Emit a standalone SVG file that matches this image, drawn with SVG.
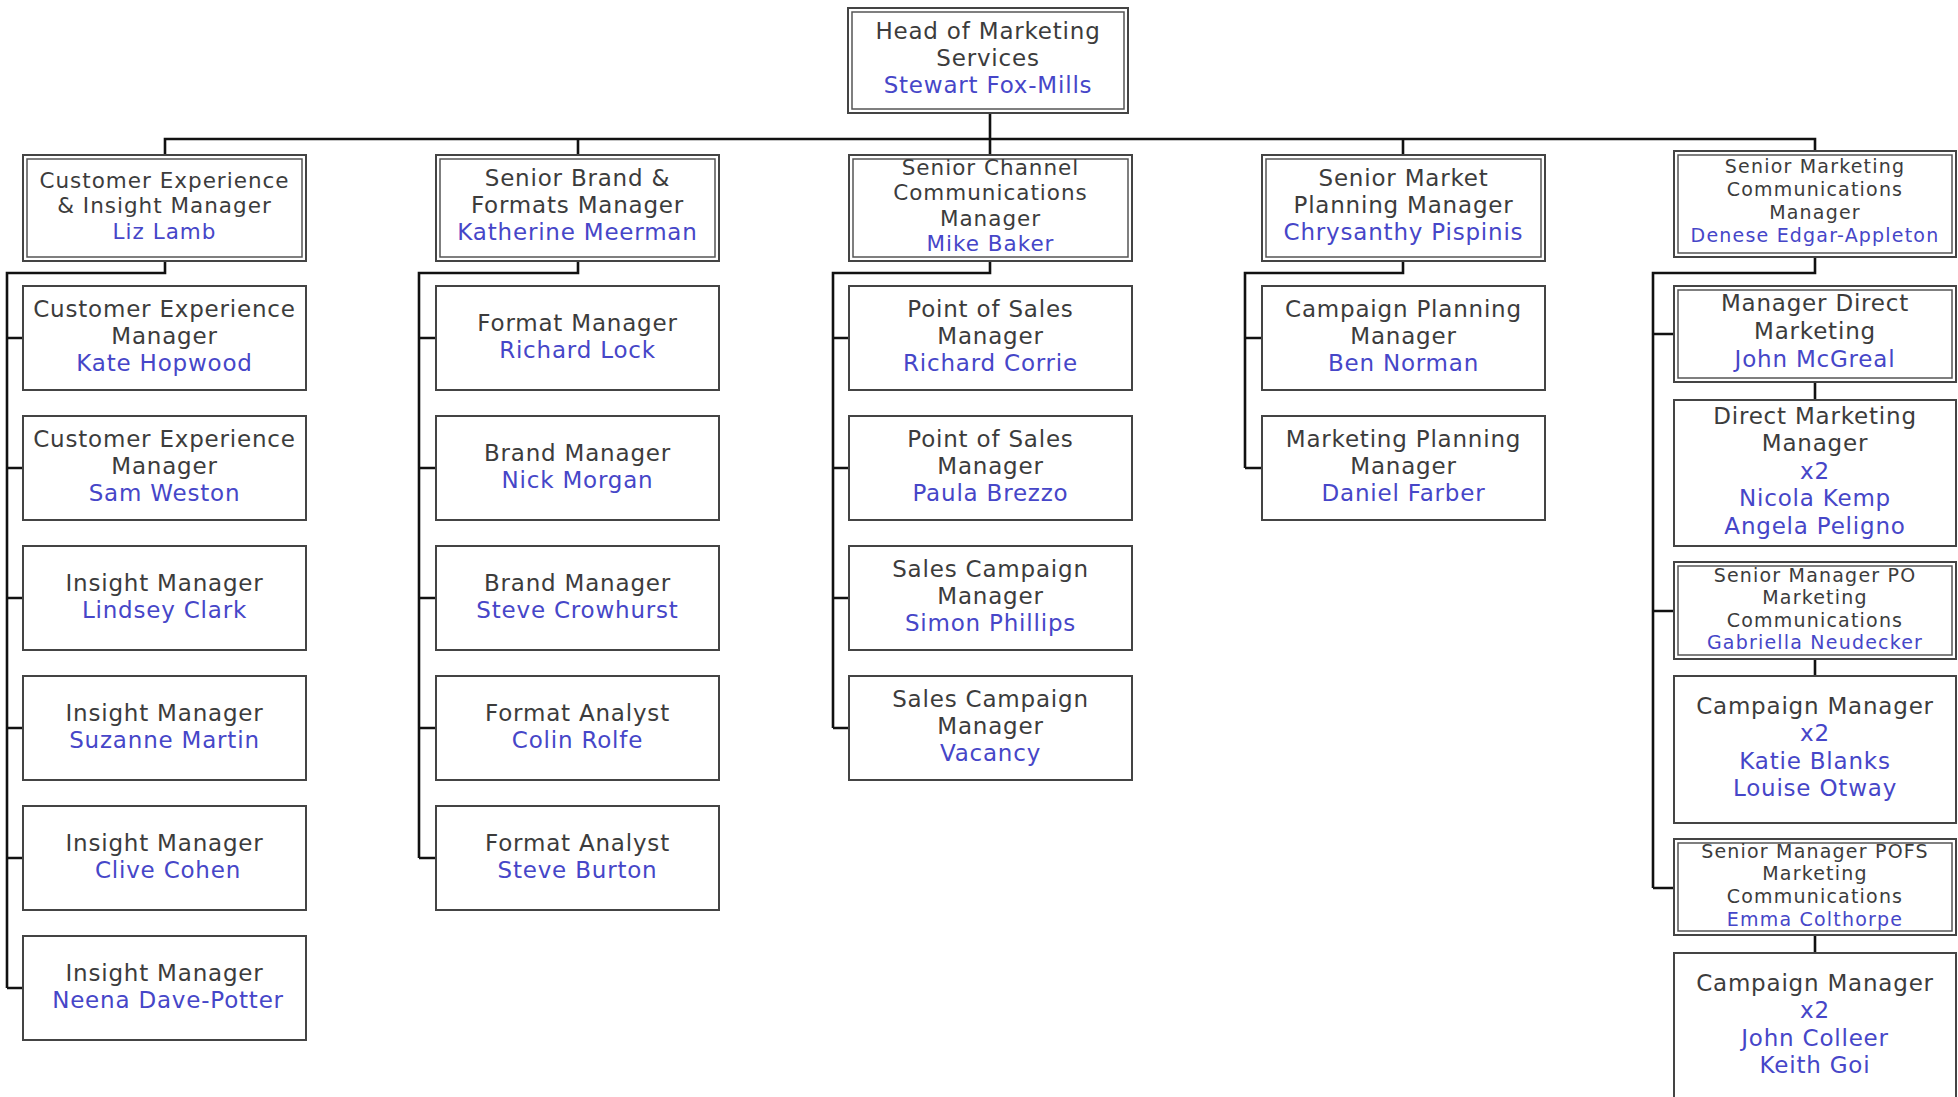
<svg xmlns="http://www.w3.org/2000/svg" width="1958" height="1097" viewBox="0 0 1958 1097">
<style>
  .bg { fill: #ffffff; }
  .box { fill: #ffffff; stroke: #444444; stroke-width: 2; }
  .inner { fill: none; stroke: #555555; stroke-width: 1.5; }
  .conn { fill: none; stroke: #111111; stroke-width: 2.6; stroke-linejoin: miter; }
  text { font-family: "DejaVu Sans", "Noto Sans", sans-serif; text-anchor: middle; letter-spacing: 0.8px; }
  .t { fill: #3c3c3c; font-size: 23px; }
  .n { fill: #4646c8; font-size: 23px; }
  .s { font-size: 21.5px; letter-spacing: 1px; }
  .xs { font-size: 19px; letter-spacing: 1.2px; }
</style>
<rect class="bg" x="0" y="0" width="1958" height="1097"/>

<g id="connectors">
  <path class="conn" d="M990 113 V139 M165 155 V139 H1815 V151 M578 139 V155 M990 139 V155 M1403 139 V155"/>
  <path class="conn" d="M165 261 V273 H7 V988 M7 338 H23 M7 468 H23 M7 598 H23 M7 728 H23 M7 858 H23 M7 988 H23"/>
  <path class="conn" d="M578 261 V273 H419 V858 M419 338 H436 M419 468 H436 M419 598 H436 M419 728 H436 M419 858 H436"/>
  <path class="conn" d="M990 261 V273 H833 V728 M833 338 H849 M833 468 H849 M833 598 H849 M833 728 H849"/>
  <path class="conn" d="M1403 261 V273 H1245 V468 M1245 338 H1262 M1245 468 H1262"/>
  <path class="conn" d="M1815 257 V273 H1653 V888 M1653 334 H1674 M1653 611 H1674 M1653 888 H1674"/>
  <path class="conn" d="M1815 382 V400 M1815 659 V676 M1815 935 V953"/>
</g>

<g id="head">
  <rect class="box" x="848" y="8" width="280" height="105"/>
  <rect class="inner" x="852" y="12" width="272" height="97"/>
  <text class="t" x="988" y="39">Head of Marketing</text>
  <text class="t" x="988" y="66">Services</text>
  <text class="n" x="988" y="93">Stewart Fox-Mills</text>
</g>

<!-- Column 1 -->
<g id="liz-lamb">
  <rect class="box" x="23" y="155" width="283" height="106"/>
  <rect class="inner" x="27" y="159" width="275" height="98"/>
  <text class="t s" x="164.5" y="188">Customer Experience</text>
  <text class="t s" x="164.5" y="213">&amp; Insight Manager</text>
  <text class="n s" x="164.5" y="239">Liz Lamb</text>
</g>
<g id="kate-hopwood">
  <rect class="box" x="23" y="286" width="283" height="104"/>
  <text class="t" x="164.5" y="317">Customer Experience</text>
  <text class="t" x="164.5" y="344">Manager</text>
  <text class="n" x="164.5" y="371">Kate Hopwood</text>
</g>
<g id="sam-weston">
  <rect class="box" x="23" y="416" width="283" height="104"/>
  <text class="t" x="164.5" y="447">Customer Experience</text>
  <text class="t" x="164.5" y="474">Manager</text>
  <text class="n" x="164.5" y="501">Sam Weston</text>
</g>
<g id="lindsey-clark">
  <rect class="box" x="23" y="546" width="283" height="104"/>
  <text class="t" x="164.5" y="591">Insight Manager</text>
  <text class="n" x="164.5" y="618">Lindsey Clark</text>
</g>
<g id="suzanne-martin">
  <rect class="box" x="23" y="676" width="283" height="104"/>
  <text class="t" x="164.5" y="721">Insight Manager</text>
  <text class="n" x="164.5" y="748">Suzanne Martin</text>
</g>
<g id="clive-cohen">
  <rect class="box" x="23" y="806" width="283" height="104"/>
  <text class="t" x="164.5" y="851">Insight Manager</text>
  <text class="n" x="168" y="878">Clive Cohen</text>
</g>
<g id="neena-dave-potter">
  <rect class="box" x="23" y="936" width="283" height="104"/>
  <text class="t" x="164.5" y="981">Insight Manager</text>
  <text class="n" x="168" y="1008">Neena Dave-Potter</text>
</g>

<!-- Column 2 -->
<g id="katherine-meerman">
  <rect class="box" x="436" y="155" width="283" height="106"/>
  <rect class="inner" x="440" y="159" width="275" height="98"/>
  <text class="t" x="577.5" y="186">Senior Brand &amp;</text>
  <text class="t" x="577.5" y="213">Formats Manager</text>
  <text class="n" x="577.5" y="240">Katherine Meerman</text>
</g>
<g id="richard-lock">
  <rect class="box" x="436" y="286" width="283" height="104"/>
  <text class="t" x="577.5" y="331">Format Manager</text>
  <text class="n" x="577.5" y="358">Richard Lock</text>
</g>
<g id="nick-morgan">
  <rect class="box" x="436" y="416" width="283" height="104"/>
  <text class="t" x="577.5" y="461">Brand Manager</text>
  <text class="n" x="577.5" y="488">Nick Morgan</text>
</g>
<g id="steve-crowhurst">
  <rect class="box" x="436" y="546" width="283" height="104"/>
  <text class="t" x="577.5" y="591">Brand Manager</text>
  <text class="n" x="577.5" y="618">Steve Crowhurst</text>
</g>
<g id="colin-rolfe">
  <rect class="box" x="436" y="676" width="283" height="104"/>
  <text class="t" x="577.5" y="721">Format Analyst</text>
  <text class="n" x="577.5" y="748">Colin Rolfe</text>
</g>
<g id="steve-burton">
  <rect class="box" x="436" y="806" width="283" height="104"/>
  <text class="t" x="577.5" y="851">Format Analyst</text>
  <text class="n" x="577.5" y="878">Steve Burton</text>
</g>

<!-- Column 3 -->
<g id="mike-baker">
  <rect class="box" x="849" y="155" width="283" height="106"/>
  <rect class="inner" x="853" y="159" width="275" height="98"/>
  <text class="t s" x="990.5" y="175">Senior Channel</text>
  <text class="t s" x="990.5" y="200">Communications</text>
  <text class="t s" x="990.5" y="226">Manager</text>
  <text class="n s" x="990.5" y="251">Mike Baker</text>
</g>
<g id="richard-corrie">
  <rect class="box" x="849" y="286" width="283" height="104"/>
  <text class="t" x="990.5" y="317">Point of Sales</text>
  <text class="t" x="990.5" y="344">Manager</text>
  <text class="n" x="990.5" y="371">Richard Corrie</text>
</g>
<g id="paula-brezzo">
  <rect class="box" x="849" y="416" width="283" height="104"/>
  <text class="t" x="990.5" y="447">Point of Sales</text>
  <text class="t" x="990.5" y="474">Manager</text>
  <text class="n" x="990.5" y="501">Paula Brezzo</text>
</g>
<g id="simon-phillips">
  <rect class="box" x="849" y="546" width="283" height="104"/>
  <text class="t" x="990.5" y="577">Sales Campaign</text>
  <text class="t" x="990.5" y="604">Manager</text>
  <text class="n" x="990.5" y="631">Simon Phillips</text>
</g>
<g id="vacancy">
  <rect class="box" x="849" y="676" width="283" height="104"/>
  <text class="t" x="990.5" y="707">Sales Campaign</text>
  <text class="t" x="990.5" y="734">Manager</text>
  <text class="n" x="990.5" y="761">Vacancy</text>
</g>

<!-- Column 4 -->
<g id="chrysanthy-pispinis">
  <rect class="box" x="1262" y="155" width="283" height="106"/>
  <rect class="inner" x="1266" y="159" width="275" height="98"/>
  <text class="t" x="1403.5" y="186">Senior Market</text>
  <text class="t" x="1403.5" y="213">Planning Manager</text>
  <text class="n" x="1403.5" y="240">Chrysanthy Pispinis</text>
</g>
<g id="ben-norman">
  <rect class="box" x="1262" y="286" width="283" height="104"/>
  <text class="t" x="1403.5" y="317">Campaign Planning</text>
  <text class="t" x="1403.5" y="344">Manager</text>
  <text class="n" x="1403.5" y="371">Ben Norman</text>
</g>
<g id="daniel-farber">
  <rect class="box" x="1262" y="416" width="283" height="104"/>
  <text class="t" x="1403.5" y="447">Marketing Planning</text>
  <text class="t" x="1403.5" y="474">Manager</text>
  <text class="n" x="1403.5" y="501">Daniel Farber</text>
</g>

<!-- Column 5 -->
<g id="denese-edgar-appleton">
  <rect class="box" x="1674" y="151" width="282" height="106"/>
  <rect class="inner" x="1678" y="155" width="274" height="98"/>
  <text class="t xs" x="1815" y="173">Senior Marketing</text>
  <text class="t xs" x="1815" y="196">Communications</text>
  <text class="t xs" x="1815" y="219">Manager</text>
  <text class="n xs" x="1815" y="242">Denese Edgar-Appleton</text>
</g>
<g id="john-mcgreal">
  <rect class="box" x="1674" y="286" width="282" height="96"/>
  <rect class="inner" x="1678" y="290" width="274" height="88"/>
  <text class="t" x="1815" y="311">Manager Direct</text>
  <text class="t" x="1815" y="339">Marketing</text>
  <text class="n" x="1815" y="367">John McGreal</text>
</g>
<g id="nicola-kemp-angela-peligno">
  <rect class="box" x="1674" y="400" width="282" height="146"/>
  <text class="t" x="1815" y="424">Direct Marketing</text>
  <text class="t" x="1815" y="451">Manager</text>
  <text class="n" x="1815" y="479">x2</text>
  <text class="n" x="1815" y="506">Nicola Kemp</text>
  <text class="n" x="1815" y="534">Angela Peligno</text>
</g>
<g id="gabriella-neudecker">
  <rect class="box" x="1674" y="562" width="282" height="97"/>
  <rect class="inner" x="1678" y="566" width="274" height="89"/>
  <text class="t xs" x="1815" y="582">Senior Manager PO</text>
  <text class="t xs" x="1815" y="604">Marketing</text>
  <text class="t xs" x="1815" y="627">Communications</text>
  <text class="n xs" x="1815" y="649">Gabriella Neudecker</text>
</g>
<g id="katie-blanks-louise-otway">
  <rect class="box" x="1674" y="676" width="282" height="147"/>
  <text class="t" x="1815" y="714">Campaign Manager</text>
  <text class="n" x="1815" y="741">x2</text>
  <text class="n" x="1815" y="769">Katie Blanks</text>
  <text class="n" x="1815" y="796">Louise Otway</text>
</g>
<g id="emma-colthorpe">
  <rect class="box" x="1674" y="839" width="282" height="96"/>
  <rect class="inner" x="1678" y="843" width="274" height="88"/>
  <text class="t xs" x="1815" y="858">Senior Manager POFS</text>
  <text class="t xs" x="1815" y="880">Marketing</text>
  <text class="t xs" x="1815" y="903">Communications</text>
  <text class="n xs" x="1815" y="926">Emma Colthorpe</text>
</g>
<g id="john-colleer-keith-goi">
  <rect class="box" x="1674" y="953" width="282" height="160"/>
  <text class="t" x="1815" y="991">Campaign Manager</text>
  <text class="n" x="1815" y="1018">x2</text>
  <text class="n" x="1815" y="1046">John Colleer</text>
  <text class="n" x="1815" y="1073">Keith Goi</text>
</g>
</svg>
